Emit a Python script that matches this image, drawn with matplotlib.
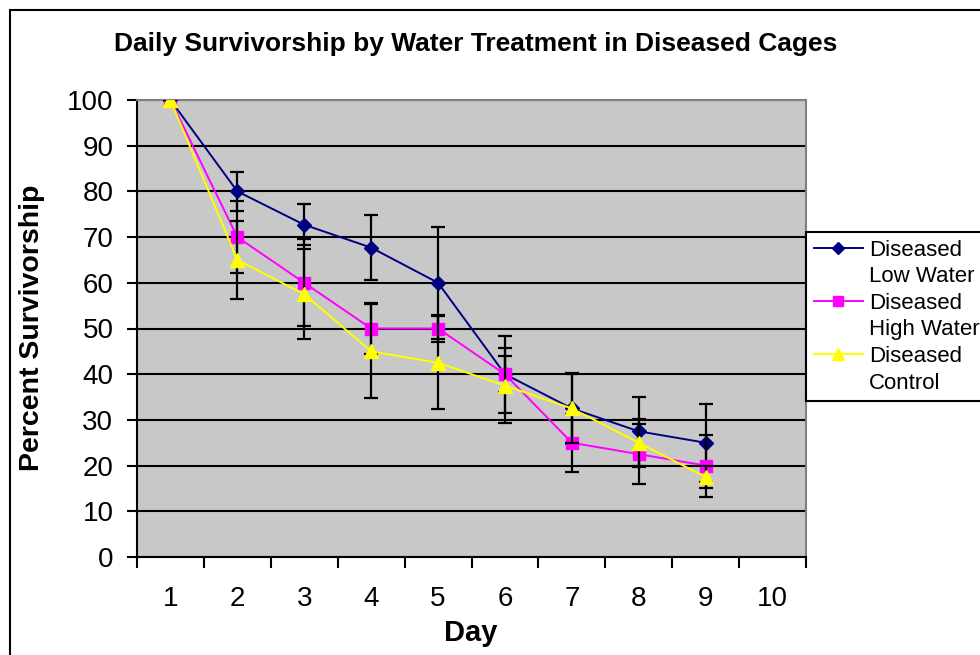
import matplotlib
matplotlib.use("Agg")
import matplotlib.pyplot as plt
from matplotlib.lines import Line2D
from matplotlib.patches import Rectangle
import numpy as np

plt.rcParams['font.family'] = ['Liberation Sans', 'DejaVu Sans']

days = np.arange(1, 10)
day_labels = [str(d) for d in range(1, 11)]

low_water = [100, 80, 72.7, 67.7, 60, 40, 32.5, 27.5, 25]
high_water = [100, 70, 60, 50, 50, 40, 25, 22.5, 20]
control = [100, 65, 57.5, 45, 42.5, 37.5, 32.5, 25, 17.5]

low_err = [0, 4.2, 4.5, 7.1, 12.2, 4.0, 7.7, 7.6, 8.5]
high_err = [0, 7.9, 9.5, 5.6, 2.9, 8.4, 6.3, 6.5, 6.8]
control_err = [0, 8.5, 9.9, 10.3, 10.2, 8.2, 7.5, 5.2, 2.4]

series = [
    ("Diseased", "Low Water", low_water, low_err, "#000080", "D", 7.5),
    ("Diseased", "High Water", high_water, high_err, "#FF00FF", "s", 8),
    ("Diseased", "Control", control, control_err, "#FFFF00", "^", 10),
]

fig = plt.figure(figsize=(9.8, 6.55), dpi=100)
ax = fig.add_axes([137/980, 1 - 557/655, (806 - 137)/980, (557 - 100)/655])
ax.set_facecolor("#C8C8C8")

# outer chart frame (runs off the right/bottom edge like the original)
fig.patches.append(Rectangle((10/980, -0.05), 1.1, 1 - 10/655 + 0.05,
                             transform=fig.transFigure, fill=False,
                             edgecolor="black", linewidth=1.5, zorder=0))

handles = []
labels = []
for i, (l1, l2, vals, err, col, mk, ms) in enumerate(series):
    ax.errorbar(days, vals, yerr=err, fmt="none", ecolor="black",
                elinewidth=1.6, capsize=5, capthick=1.6, zorder=3 + i * 2)
    ax.plot(days, vals, color=col, marker=mk, markersize=ms, linewidth=1.4,
            markeredgecolor=col, zorder=4 + i * 2)
    # legend: marker on the first line, blank entry for the second line
    handles.append(Line2D([], [], color=col, marker=mk, markersize=ms - 1,
                          linewidth=1.4))
    labels.append(l1)
    handles.append(Line2D([], [], linestyle="none"))
    labels.append(l2)

ax.set_xlim(0.5, 10.5)
ax.set_ylim(0, 100)
ax.set_yticks(np.arange(0, 101, 10))
ax.yaxis.grid(True, color="black", linewidth=1.5)
ax.set_axisbelow(True)
ax.tick_params(axis="y", direction="out", length=7, width=1.5, pad=10,
               labelsize=20)

# ticks between categories, labels centred on them
ax.set_xticks(np.arange(0.5, 11, 1))
ax.set_xticklabels([])
ax.set_xticks(np.arange(1, 11), minor=True)
ax.set_xticklabels(day_labels, minor=True)
ax.tick_params(axis="x", which="major", direction="out", length=8, width=1.5)
ax.tick_params(axis="x", which="minor", length=0, pad=21, labelsize=20)

for s in ["top", "right"]:
    ax.spines[s].set_color("#808080")
    ax.spines[s].set_linewidth(1.5)
for s in ["left", "bottom"]:
    ax.spines[s].set_color("black")
    ax.spines[s].set_linewidth(1.5)

fig.text(476/980, 1 - 44/655, "Daily Survivorship by Water Treatment in Diseased Cages",
         ha="center", va="center", fontsize=19, fontweight="bold")
fig.text(32/980, 1 - 328/655, "Percent Survivorship", rotation=90,
         ha="center", va="center", fontsize=20.5, fontweight="bold")
fig.text(471/980, 1 - 633/655, "Day", ha="center", va="center",
         fontsize=21, fontweight="bold")

leg = fig.legend(handles, labels, loc="upper left",
                 bbox_to_anchor=(806/980, 1 - 232/655), fontsize=16,
                 frameon=True, fancybox=False, framealpha=1,
                 edgecolor="black", handlelength=2.2, handletextpad=0.3,
                 labelspacing=0.25, borderpad=0.35, borderaxespad=0)
leg.get_frame().set_linewidth(1.5)

fig.savefig("out.png", dpi=100)
